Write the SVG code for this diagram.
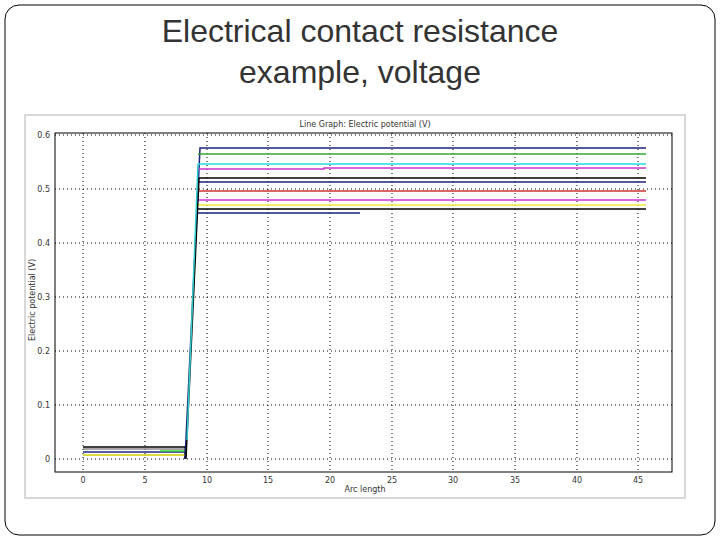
<svg xmlns="http://www.w3.org/2000/svg" width="720" height="540" viewBox="0 0 720 540">
<style>
.t{font-family:"Liberation Sans",Arial,sans-serif;fill:#333;font-size:32px;text-anchor:middle}
.s{font-family:"DejaVu Sans",sans-serif;fill:#333;font-size:8px}
.g{stroke:#000;stroke-width:1;stroke-dasharray:1,3;fill:none}
.d{fill:none;stroke-width:1.5}
</style>
<rect x="5" y="5" width="710" height="530" rx="14" fill="#fff" stroke="#000" stroke-width="1"/>
<g id="title"><text class="t" x="360" y="42">Electrical contact resistance</text><text class="t" x="360" y="83">example, voltage</text></g>
<g id="panel">
<rect x="25" y="115" width="660" height="383" fill="#fff" stroke="#d8d8d8" stroke-width="2"/>
<text class="s" x="365" y="127" text-anchor="middle">Line Graph: Electric potential (V)</text>
<g class="g">
<path d="M83 133V472M145 133V472M207 133V472M268 133V472M330 133V472M392 133V472M453 133V472M515 133V472M577 133V472M638 133V472"/>
<path d="M55 135H672M55 189H672M55 243H672M55 297H672M55 351H672M55 405H672M55 459H672"/>
</g>
<rect x="55" y="133" width="617" height="339" fill="none" stroke="#000"/>
<g class="s" text-anchor="end">
<text x="50" y="138">0.6</text><text x="50" y="192">0.5</text><text x="50" y="246">0.4</text><text x="50" y="300">0.3</text><text x="50" y="354">0.2</text><text x="50" y="408">0.1</text><text x="50" y="462">0</text>
</g>
<g class="s" text-anchor="middle">
<text x="83" y="483">0</text><text x="145" y="483">5</text><text x="207" y="483">10</text><text x="268" y="483">15</text><text x="330" y="483">20</text><text x="392" y="483">25</text><text x="453" y="483">30</text><text x="515" y="483">35</text><text x="577" y="483">40</text><text x="638" y="483">45</text>
<text x="365" y="492">Arc length</text>
<text transform="translate(35 300) rotate(-90)">Electric potential (V)</text>
</g>
</g>
<g id="curves">
<path class="d" stroke="#000" d="M83 447H185V459"/>
<path class="d" stroke="#888" d="M83 449H185"/>
<path class="d" stroke="#1a237e" stroke-width="3" d="M83 452H185"/>
<path class="d" stroke="#3c3" d="M160 451H185"/>
<path class="d" stroke="#cc0" d="M83 455H185"/>
<path class="d" stroke="#1a237e" d="M185 459L200 148H646"/>
<path class="d" stroke="#3a3" d="M198 154H646"/>
<path class="d" stroke="#2dd" d="M198 164H646"/>
<path class="d" stroke="#c3c" d="M198 169H324V168H646"/>
<path class="d" stroke="#000" d="M199 178H646"/>
<path class="d" stroke="#1a237e" d="M199 182H646"/>
<path class="d" stroke="#c33" d="M198 191H646"/>
<path class="d" stroke="#c3c" d="M198 200H646"/>
<path class="d" stroke="#ee3" d="M198 205H646"/>
<path class="d" stroke="#000" d="M198 209H646"/>
<path class="d" stroke="#1a237e" d="M198 213H360"/>
<path class="d" stroke="#000" d="M186 459L199 178"/>
<path class="d" stroke="#3cc" d="M187 440L198 164"/>
</g>
</svg>
